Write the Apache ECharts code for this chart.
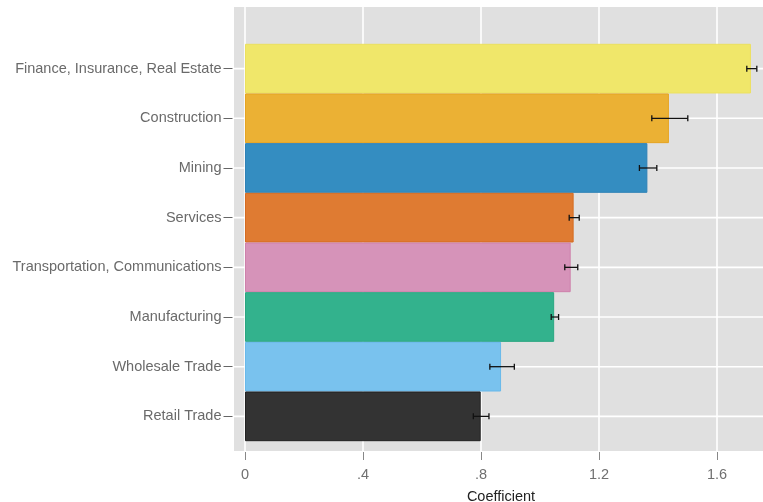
<!DOCTYPE html>
<html><head><meta charset="utf-8">
<script src="https://cdn.jsdelivr.net/npm/echarts@6/dist/echarts.min.js"></script>
<style>html,body{margin:0;padding:0;background:#fff}#c{width:763px;height:502px}</style>
</head><body><div id="c"></div>
<script>
const categories = ['Finance, Insurance, Real Estate','Construction','Mining','Services','Transportation, Communications','Manufacturing','Wholesale Trade','Retail Trade'];
const coefficients = [1.715, 1.437, 1.364, 1.114, 1.104, 1.048, 0.868, 0.799];
const ciLow  = [1.701, 1.379, 1.337, 1.099, 1.084, 1.038, 0.830, 0.774];
const ciHigh = [1.735, 1.501, 1.396, 1.133, 1.128, 1.063, 0.913, 0.827];
const barColors  = ['#f0e76a','#ebb134','#348dc1','#df7b32','#d693b9','#33b28d','#79c2ee','#333333'];
const barBorders = ['#ece05e','#e6a421','#2e81b6','#d56b21','#cf80ab','#29a680','#68b9eb','#222222'];
const xTicks = [0, 0.4, 0.8, 1.2, 1.6];

const X_MIN = -0.03729, X_MAX = 1.75593;
const FONT = 'Liberation Sans, Arial, sans-serif';
const chart = echarts.init(document.getElementById('c'), null, {renderer:'canvas'});
const fmt = v => (v === 0 ? '0' : String(+v.toFixed(2)).replace(/^0/, ''));

chart.setOption({
  animation: false,
  backgroundColor: '#ffffff',
  grid: [
    {left: 234, right: 0, top: 7, bottom: 51, show: true, backgroundColor: '#e0e0e0', borderWidth: 0, z: 0, containLabel: false, outerBoundsMode: 'none'},
    {left: 245, right: 46, top: 7, bottom: 51, show: false, containLabel: false, outerBoundsMode: 'none'},
    {left: 234, right: 0, top: 43.8, bottom: 60.8, show: false, containLabel: false, outerBoundsMode: 'none'}
  ],
  xAxis: [
    {gridIndex: 0, type: 'value', min: X_MIN, max: X_MAX,
     axisLine:{show:false, onZero:false}, axisTick:{show:false}, axisLabel:{show:false}, splitLine:{show:false},
     name: 'Coefficient', nameLocation: 'middle', nameGap: 38,
     nameTextStyle: {color:'#222', fontSize: 14.5, fontFamily: FONT, padding:[0,0,0,5]}},
    {gridIndex: 1, type: 'value', min: xTicks[0], max: xTicks[xTicks.length-1], interval: 0.4, z: 1,
     axisLine:{show:false, onZero:false}, offset: 1,
     axisTick:{show:true, inside:false, length: 8, lineStyle:{color:'#888', width:1}},
     axisLabel:{show:true, margin: 15, color:'#707070', fontSize: 14.5, fontFamily: FONT, formatter: fmt},
     splitLine:{show:true, showMinLine:true, showMaxLine:true, lineStyle:{color:'#ffffff', width:1.6}}},
    {gridIndex: 2, type: 'value', min: X_MIN, max: X_MAX, show: false}
  ],
  yAxis: [
    {gridIndex: 0, type: 'value', show: false},
    {gridIndex: 1, type: 'value', show: false},
    {gridIndex: 2, type: 'category', data: categories, inverse: true, offset: 1.5, z: 1,
     axisLine:{show:false, onZero:false},
     axisTick:{show:true, inside:false, alignWithLabel:true, length: 9, lineStyle:{color:'#666', width:1}},
     axisLabel:{margin: 11, color:'#6a6a6a', fontSize: 14.5, fontFamily: FONT},
     splitLine:{show:false}}
  ],
  series: [
    {type:'custom', xAxisIndex: 2, yAxisIndex: 2, z: 1, silent: true,
     data: categories.map((c,i)=>[0,i]), encode:{x:0, y:1},
     renderItem: (params, api) => {
       const p = api.coord([0, api.value(1)]);
       const cs = params.coordSys;
       return {type:'line', shape:{x1: cs.x, y1: p[1], x2: cs.x + cs.width, y2: p[1]},
               style:{stroke:'#ffffff', lineWidth:1.6}};
     }},
    {type:'bar', xAxisIndex: 2, yAxisIndex: 2, z: 2, barCategoryGap: '0%',
     data: coefficients.map((v,i)=>({value:v, itemStyle:{color:barColors[i], borderColor:barBorders[i], borderWidth:1}}))},
    {type:'custom', xAxisIndex: 2, yAxisIndex: 2, z: 3, silent: true,
     data: categories.map((c,i)=>[i, ciLow[i], ciHigh[i]]), encode:{x:[1,2], y:0},
     renderItem: (params, api) => {
       const i = api.value(0);
       const a = api.coord([api.value(1), i]);
       const b = api.coord([api.value(2), i]);
       const h = 3;
       const st = {stroke:'#111', lineWidth:1.3};
       return {type:'group', children:[
         {type:'line', shape:{x1:a[0], y1:a[1], x2:b[0], y2:b[1]}, style:st},
         {type:'line', shape:{x1:a[0], y1:a[1]-h, x2:a[0], y2:a[1]+h}, style:st},
         {type:'line', shape:{x1:b[0], y1:b[1]-h, x2:b[0], y2:b[1]+h}, style:st}
       ]};
     }}
  ]
});
</script></body></html>
